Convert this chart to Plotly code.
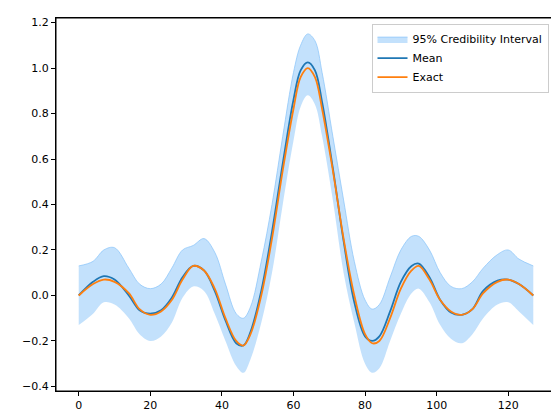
import plotly.graph_objects as go

x = [0, 4, 7, 10, 14, 17, 20, 23, 26, 29, 32, 35, 38, 41, 44, 46, 48, 51, 54, 57, 60, 62, 64,
     66, 68, 71, 74, 77, 80, 82, 84, 87, 90, 93, 95, 98, 101, 104, 107, 110, 113, 117, 120, 123, 127]

exact = [0.0, 0.05, 0.07, 0.06, 0.01, -0.06, -0.085, -0.07, -0.02, 0.07, 0.13, 0.11, 0.03, -0.1,
         -0.2, -0.22, -0.17, 0.0, 0.25, 0.55, 0.82, 0.96, 1.0, 0.96, 0.82, 0.55, 0.25, 0.0, -0.17,
         -0.21, -0.2, -0.1, 0.03, 0.11, 0.13, 0.07, -0.02, -0.07, -0.085, -0.06, 0.01, 0.06, 0.07,
         0.05, 0.0]

mean = [0.0, 0.06, 0.085, 0.07, 0.0, -0.065, -0.08, -0.065, -0.01, 0.08, 0.13, 0.11, 0.02, -0.11,
        -0.21, -0.22, -0.16, 0.02, 0.28, 0.58, 0.86, 0.99, 1.025, 0.99, 0.85, 0.56, 0.24, -0.03,
        -0.18, -0.2, -0.18, -0.07, 0.06, 0.13, 0.14, 0.08, -0.02, -0.075, -0.085, -0.06, 0.02,
        0.065, 0.07, 0.05, 0.0]

upper = [0.13, 0.15, 0.2, 0.21, 0.12, 0.05, 0.03, 0.05, 0.12, 0.2, 0.22, 0.25, 0.19, 0.05, -0.08,
         -0.1, -0.05, 0.15, 0.4, 0.7, 0.98, 1.1, 1.15, 1.12, 0.98, 0.7, 0.42, 0.15, -0.02, -0.06,
         -0.04, 0.08, 0.2, 0.26, 0.26, 0.2, 0.1, 0.04, 0.03, 0.06, 0.12, 0.18, 0.2, 0.16, 0.13]

lower = [-0.13, -0.08, -0.03, -0.04, -0.1, -0.17, -0.2, -0.18, -0.12, -0.01, 0.04, 0.02, -0.08,
         -0.2, -0.31, -0.34, -0.28, -0.12, 0.1, 0.4, 0.68, 0.83, 0.88, 0.84, 0.7, 0.42, 0.1, -0.12,
         -0.3, -0.34, -0.32, -0.2, -0.08, 0.01, 0.03, -0.03, -0.13, -0.19, -0.21, -0.17, -0.1,
         -0.04, -0.03, -0.07, -0.13]

fig = go.Figure()
fig.add_trace(go.Scatter(x=x, y=lower, mode="lines", line=dict(width=0, shape="spline"),
                         showlegend=False, hoverinfo="skip"))
fig.add_trace(go.Scatter(x=x, y=upper, mode="lines", fill="tonexty",
                         fillcolor="rgba(135,195,250,0.5)",
                         line=dict(width=1, color="rgba(135,195,250,0.7)", shape="spline"),
                         name="95% Credibility Interval"))
fig.add_trace(go.Scatter(x=x, y=mean, mode="lines", name="Mean",
                         line=dict(color="#1f77b4", width=1.8, shape="spline")))
fig.add_trace(go.Scatter(x=x, y=exact, mode="lines", name="Exact",
                         line=dict(color="#ff7f0e", width=1.8, shape="spline")))

axis = dict(showgrid=False, zeroline=False, showline=True, linecolor="black", mirror=True,
            ticks="outside", ticklen=4, tickcolor="black")
fig.update_xaxes(range=[-6.35, 133.35], tickvals=[0, 20, 40, 60, 80, 100, 120], **axis)
fig.update_yaxes(range=[-0.42, 1.22], tickvals=[-0.4, -0.2, 0, 0.2, 0.4, 0.6, 0.8, 1.0, 1.2],
                 tickformat=".1f", **axis)
# frame around the plot area
fig.add_shape(type="rect", xref="paper", yref="paper", x0=0, y0=0, x1=1, y1=1,
              line=dict(color="black", width=1), layer="above")
fig.update_layout(
    width=559, height=413, margin=dict(l=48, r=11, t=8, b=30),
    plot_bgcolor="white", paper_bgcolor="white",
    font=dict(family="DejaVu Sans", size=11, color="black"),
    legend=dict(x=0.985, y=0.985, xanchor="right", yanchor="top", bordercolor="#ccc",
                borderwidth=1, bgcolor="rgba(255,255,255,0.8)", traceorder="normal"),
)
fig.write_html("out.html")
